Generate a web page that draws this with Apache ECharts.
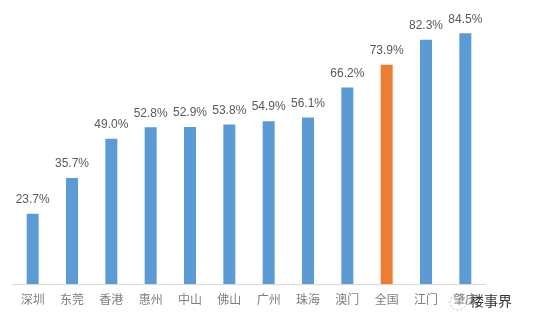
<!DOCTYPE html>
<html>
<head>
<meta charset="utf-8">
<script src="https://cdn.jsdelivr.net/npm/echarts@6/dist/echarts.min.js"></script>
<style>
  html, body { margin: 0; padding: 0; background: #fff; }
  #bar { width: 554px; height: 330px; }
</style>
</head>
<body>
<div id="bar"></div>
<script>
// 各城市比例
let cities = ['深圳', '东莞', '香港', '惠州', '中山', '佛山', '广州', '珠海', '澳门', '全国', '江门', '肇庆'];
let rates = [23.7, 35.7, 49.0, 52.8, 52.9, 53.8, 54.9, 56.1, 66.2, 73.9, 82.3, 84.5];
let highlight = '全国';

let chartDom = document.getElementById('bar');
let myChart = echarts.init(chartDom);
let option;

option = {
  animation: false,
  grid: { left: 13, right: 69, top: 17, bottom: 46 },
  xAxis: {
    type: 'category',
    data: cities,
    axisTick: { show: false },
    axisLine: { lineStyle: { color: '#d9d9d9', width: 1 } },
    axisLabel: {
      interval: 0,
      margin: 9,
      color: '#7f7f7f',
      fontSize: 12,
      fontFamily: 'Noto Sans CJK SC'
    }
  },
  yAxis: {
    type: 'value',
    min: 0,
    max: 90,
    show: false,
    splitLine: { show: false }
  },
  series: [
    {
      type: 'bar',
      barWidth: 12,
      data: rates.map((v, i) => ({
        value: v,
        itemStyle: { color: cities[i] === highlight ? '#ed7d31' : '#5b9bd5' }
      })),
      label: {
        show: true,
        position: 'top',
        distance: 8,
        color: '#595959',
        fontSize: 12,
        fontFamily: 'Liberation Sans',
        formatter: p => p.value.toFixed(1) + '%'
      }
    }
  ],
  graphic: [
    {
      type: 'circle',
      shape: { cx: 458, cy: 302, r: 8 },
      style: { fill: 'rgba(255,255,255,0.6)', stroke: '#bbb', lineWidth: 1, lineDash: [2, 2] }
    },
    {
      type: 'text',
      left: 470,
      top: 294,
      style: {
        text: '楼事界',
        fill: '#333',
        font: '14px "Noto Sans CJK SC"',
        backgroundColor: 'rgba(255,255,255,0.6)'
      }
    }
  ]
};
option && myChart.setOption(option);
</script>
</body>
</html>
